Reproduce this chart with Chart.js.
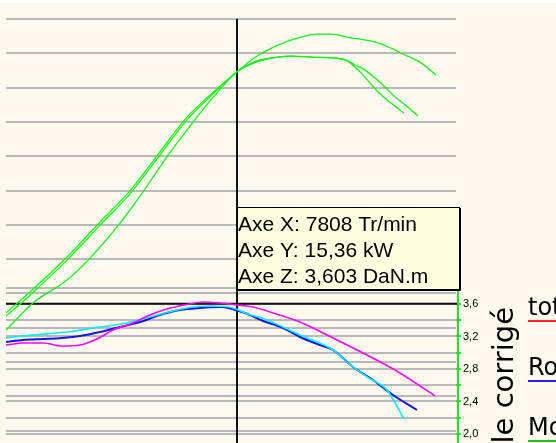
<!DOCTYPE html>
<html lang="fr">
<head>
<meta charset="utf-8">
<title>Courbes puissance / couple</title>
<script src="https://cdn.jsdelivr.net/npm/chart.js@4/dist/chart.umd.min.js"></script>
<style>
  html, body { margin: 0; padding: 0; background: #ffffff; overflow: hidden; }
  #graphBox { position: relative; width: 556px; height: 443px; }
</style>
</head>
<body>
<div id="graphBox"><canvas id="graphBanc"></canvas></div>
<script>
// Puissance (kW) : trois courbes vertes
const A_RPM_P1 = [5000, 5292, 5742, 6143, 6507, 6836, 7200, 7480, 7808, 8051, 8306, 8550, 8793, 8951, 9194, 9486, 9680, 9850, 10045, 10227];
const A_KW_P1 = [8.43, 9.04, 10.06, 11.08, 11.99, 13.01, 14.14, 14.78, 15.46, 15.92, 16.24, 16.45, 16.56, 16.56, 16.45, 16.33, 16.15, 15.95, 15.72, 15.37];

const A_RPM_P2 = [5000, 5292, 5742, 6143, 6507, 6836, 7200, 7480, 7808, 8051, 8306, 8464, 8708, 9000, 9133, 9242, 9364, 9559, 9729, 9887, 10008];
const A_KW_P2 = [8.34, 8.95, 9.97, 10.99, 11.90, 12.92, 14.06, 14.73, 15.46, 15.75, 15.89, 15.92, 15.89, 15.86, 15.80, 15.66, 15.51, 15.13, 14.73, 14.43, 14.17];

const A_RPM_P3 = [5000, 5328, 5742, 6021, 6386, 6665, 6957, 7322, 7541, 7808, 8051, 8306, 8464, 8708, 9000, 9133, 9315, 9522, 9680, 9838];
const A_KW_P3 = [7.93, 8.72, 9.39, 10.03, 11.05, 11.96, 12.98, 14.14, 14.78, 15.46, 15.78, 15.89, 15.92, 15.89, 15.86, 15.80, 15.43, 14.87, 14.55, 14.26];

// Couple corrigé (DaN.m)
const A_RPM_MAGENTA = [5000, 5207, 5450, 5681, 5900, 6106, 6301, 6544, 6750, 6957, 7176, 7395, 7601, 7808, 8003, 8246, 8574, 8975, 9388, 9789, 10215];
const A_DANM_MAGENTA = [3.095, 3.120, 3.120, 3.083, 3.095, 3.169, 3.280, 3.366, 3.465, 3.538, 3.588, 3.625, 3.612, 3.588, 3.563, 3.489, 3.378, 3.182, 2.972, 2.751, 2.468];

const A_RPM_BLEU = [5000, 5207, 5450, 5681, 5900, 6143, 6386, 6629, 6872, 7115, 7358, 7601, 7905, 8124, 8367, 8574, 8817, 8975, 9218, 9461, 9704, 9996];
const A_DANM_BLEU = [3.132, 3.157, 3.169, 3.182, 3.206, 3.255, 3.317, 3.378, 3.465, 3.526, 3.551, 3.563, 3.489, 3.391, 3.305, 3.194, 3.095, 3.034, 2.825, 2.665, 2.480, 2.295];

const A_RPM_CYAN = [5000, 5328, 5742, 6143, 6471, 6750, 7030, 7273, 7516, 7759, 7905, 8173, 8574, 8975, 9145, 9388, 9631, 9838];
const A_DANM_CYAN = [3.182, 3.218, 3.255, 3.317, 3.366, 3.440, 3.514, 3.563, 3.575, 3.551, 3.489, 3.403, 3.218, 3.034, 2.886, 2.702, 2.542, 2.185];

// Graduations
const A_TICKS_PUISSANCE = [5, 6, 7, 8, 9, 10, 11, 12, 13, 14, 15, 16, 17];
const A_TICKS_COUPLE = [2.0, 2.2, 2.4, 2.6, 2.8, 3.0, 3.2, 3.4, 3.6, 3.8];
const A_LABELS_COUPLE = ["2,0", "", "2,4", "", "2,8", "", "3,2", "", "3,6", ""];

// Curseur et textes
const I_CURSOR_RPM = 7808;
const I_CURSOR_DANM = 3.603;
const A_TOOLTIP_LINES = ["Axe X: 7808 Tr/min", "Axe Y: 15,36 kW", "Axe Z: 3,603 DaN.m"];
const S_TITRE_COUPLE = "Couple corrigé";
const A_LEGENDE = [
  { S_label: "total", S_color: "#ff2020" },
  { S_label: "Roue", S_color: "#2020ff" },
  { S_label: "Moteur", S_color: "#20c020" },
];

const S_FONT = '"Liberation Sans", Arial, sans-serif';
const S_FONT_LARGE = '"DejaVu Sans", "Liberation Sans", sans-serif';
const S_CREME = "#fdf9ee";
const S_GRILLE = "#b9b9b9";
const S_VERT_AXE = "#22e622";

/**
 * Associe un tableau de régimes à un tableau de valeurs.
 */
function F_points(A_x, A_y) {
  return A_x.map((I_x, I_i) => ({ x: I_x, y: A_y[I_i] }));
}

function F_ligne(A_x, A_y, S_color, F_width, S_axis) {
  return {
    data: F_points(A_x, A_y),
    borderColor: S_color,
    borderWidth: F_width,
    pointRadius: 0,
    cubicInterpolationMode: "monotone",
    fill: false,
    yAxisID: S_axis,
  };
}

const O_fondPlugin = {
  id: "fond",
  beforeDraw(O_chart) {
    const O_ctx = O_chart.ctx;
    O_ctx.save();
    O_ctx.fillStyle = S_CREME;
    O_ctx.fillRect(0, 3, O_chart.width, O_chart.height);
    O_ctx.restore();
  },
};

const O_curseurPlugin = {
  id: "curseur",
  beforeDatasetsDraw(O_chart) {
    const O_ctx = O_chart.ctx;
    const O_area = O_chart.chartArea;
    const F_cx = O_chart.scales.x.getPixelForValue(I_CURSOR_RPM);
    const F_cy = O_chart.scales.y2.getPixelForValue(I_CURSOR_DANM);
    O_ctx.save();
    O_ctx.strokeStyle = "#111111";
    O_ctx.lineWidth = 2;
    O_ctx.beginPath();
    O_ctx.moveTo(F_cx, O_area.top);
    O_ctx.lineTo(F_cx, O_chart.height);
    O_ctx.moveTo(O_area.left, F_cy);
    O_ctx.lineTo(O_area.right + 3, F_cy);
    O_ctx.stroke();
    O_ctx.restore();
  },
  afterDraw(O_chart) {
    const O_ctx = O_chart.ctx;
    const O_area = O_chart.chartArea;
    const O_y2 = O_chart.scales.y2;
    const F_axeX = O_area.right + 2;
    O_ctx.save();

    // Axe du couple (vert), seulement sur la partie basse
    O_ctx.strokeStyle = S_VERT_AXE;
    O_ctx.lineWidth = 2;
    O_ctx.beginPath();
    O_ctx.moveTo(F_axeX, O_y2.getPixelForValue(3.8) + 2);
    O_ctx.lineTo(F_axeX, O_chart.height);
    O_ctx.stroke();

    // Bulle d'information du curseur
    const F_bx = O_chart.scales.x.getPixelForValue(I_CURSOR_RPM);
    const F_by = 207;
    const F_bw = 223;
    const F_bh = 83;
    O_ctx.fillStyle = "#ffffe1";
    O_ctx.fillRect(F_bx, F_by, F_bw, F_bh);
    O_ctx.strokeStyle = "#000000";
    O_ctx.lineWidth = 1;
    O_ctx.strokeRect(F_bx + 0.5, F_by + 0.5, F_bw - 1, F_bh - 1);
    O_ctx.beginPath();
    O_ctx.moveTo(F_bx + F_bw + 0.5, F_by + 1);
    O_ctx.lineTo(F_bx + F_bw + 0.5, F_by + F_bh + 0.5);
    O_ctx.lineTo(F_bx + 1, F_by + F_bh + 0.5);
    O_ctx.stroke();
    O_ctx.fillStyle = "#000000";
    O_ctx.font = "21px " + S_FONT;
    O_ctx.textBaseline = "alphabetic";
    O_ctx.textAlign = "left";
    A_TOOLTIP_LINES.forEach((S_line, I_i) => {
      O_ctx.fillText(S_line, F_bx + 1, F_by + 24 + I_i * 26);
    });

    // Titre vertical de l'axe du couple
    O_ctx.save();
    O_ctx.translate(513, 307);
    O_ctx.rotate(-Math.PI / 2);
    O_ctx.font = "29px " + S_FONT_LARGE;
    O_ctx.textAlign = "right";
    O_ctx.fillText(S_TITRE_COUPLE, 0, 0);
    O_ctx.restore();

    // Légende (coupée par le bord droit)
    O_ctx.font = "24px " + S_FONT_LARGE;
    A_LEGENDE.forEach((O_item, I_i) => {
      const F_base = 315 + I_i * 60;
      O_ctx.fillStyle = "#000000";
      O_ctx.fillText(O_item.S_label, 528, F_base);
      O_ctx.strokeStyle = O_item.S_color;
      O_ctx.lineWidth = 2;
      O_ctx.beginPath();
      O_ctx.moveTo(528, F_base + 6);
      O_ctx.lineTo(O_chart.width, F_base + 6);
      O_ctx.stroke();
    });
    O_ctx.restore();
  },
};

const O_canvas = document.getElementById("graphBanc");
const O_graph = new Chart(O_canvas.getContext("2d"), {
  type: "line",
  data: {
    datasets: [
      F_ligne(A_RPM_P1, A_KW_P1, "#18f018", 1.3, "y"),
      F_ligne(A_RPM_P2, A_KW_P2, "#18f018", 1.3, "y"),
      F_ligne(A_RPM_P3, A_KW_P3, "#18f018", 1.3, "y"),
      F_ligne(A_RPM_MAGENTA, A_DANM_MAGENTA, "#ff00ff", 1.6, "y2"),
      F_ligne(A_RPM_CYAN, A_DANM_CYAN, "#00f0ff", 1.6, "y2"),
      F_ligne(A_RPM_BLEU, A_DANM_BLEU, "#1414e6", 2, "y2"),
    ],
  },
  options: {
    responsive: true,
    maintainAspectRatio: false,
    animation: false,
    layout: { padding: { top: 19, left: 6, right: 0, bottom: 0 } },
    plugins: {
      legend: { display: false },
      tooltip: { enabled: false },
    },
    scales: {
      x: {
        type: "linear",
        display: false,
        min: 5000,
        max: 10470,
      },
      y: {
        type: "linear",
        position: "left",
        min: 4.64,
        max: 17,
        afterBuildTicks: (O_scale) => {
          O_scale.ticks = A_TICKS_PUISSANCE.map((F_v) => ({ value: F_v }));
        },
        ticks: { display: false },
        border: { display: false },
        grid: { drawTicks: false, lineWidth: 2, color: S_GRILLE },
      },
      y2: {
        type: "linear",
        position: "right",
        min: 1.889,
        max: 7.108,
        afterBuildTicks: (O_scale) => {
          O_scale.ticks = A_TICKS_COUPLE.map((F_v) => ({ value: F_v }));
        },
        afterFit: (O_scale) => {
          O_scale.width = 100;
          O_scale.paddingTop = 0;
          O_scale.paddingBottom = 0;
        },
        ticks: {
          autoSkip: false,
          padding: 2,
          color: "#000000",
          font: { family: S_FONT, size: 11 },
          callback: (F_value, I_index) => A_LABELS_COUPLE[I_index],
        },
        border: { display: false },
        grid: { lineWidth: 2, tickLength: 5, color: S_GRILLE, tickColor: S_VERT_AXE },
      },
    },
  },
  plugins: [O_fondPlugin, O_curseurPlugin],
});
</script>
</body>
</html>
